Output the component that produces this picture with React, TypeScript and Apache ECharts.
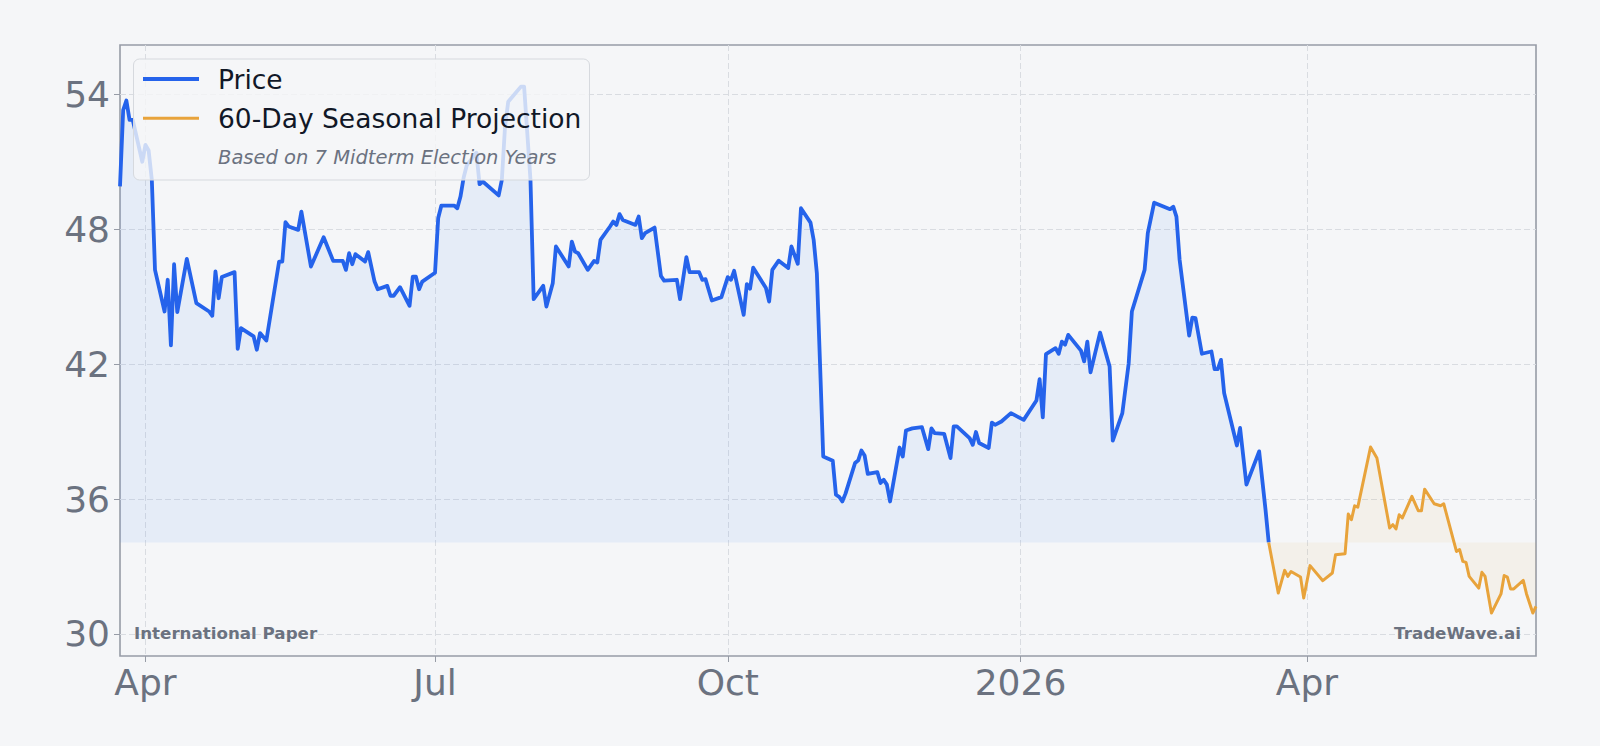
import React, { useEffect, useRef } from "react";
import * as echarts from "echarts";

const priceDates = [
  "2025-03-24","2025-03-25","2025-03-26","2025-03-27","2025-03-28","2025-03-31","2025-04-01","2025-04-02","2025-04-03","2025-04-04",
  "2025-04-07","2025-04-08","2025-04-09","2025-04-10","2025-04-11","2025-04-14","2025-04-17","2025-04-21","2025-04-22","2025-04-23",
  "2025-04-24","2025-04-25","2025-04-29","2025-04-30","2025-05-01","2025-05-05","2025-05-06","2025-05-07","2025-05-09","2025-05-13",
  "2025-05-14","2025-05-15","2025-05-16","2025-05-19","2025-05-20","2025-05-23","2025-05-27","2025-05-30","2025-06-02","2025-06-03",
  "2025-06-04","2025-06-05","2025-06-06","2025-06-09","2025-06-10","2025-06-12","2025-06-13","2025-06-16","2025-06-17","2025-06-18",
  "2025-06-20","2025-06-23","2025-06-24","2025-06-25","2025-06-26","2025-06-27","2025-07-01","2025-07-02","2025-07-03","2025-07-07",
  "2025-07-08","2025-07-09","2025-07-10","2025-07-11","2025-07-14","2025-07-15","2025-07-16","2025-07-21","2025-07-22","2025-07-23",
  "2025-07-24","2025-07-28","2025-07-29","2025-07-31","2025-08-01","2025-08-04","2025-08-05","2025-08-07","2025-08-08","2025-08-12",
  "2025-08-13","2025-08-14","2025-08-15","2025-08-18","2025-08-20","2025-08-21","2025-08-22","2025-08-25","2025-08-26","2025-08-27",
  "2025-08-28","2025-08-29","2025-09-02","2025-09-03","2025-09-04","2025-09-05","2025-09-08","2025-09-10","2025-09-11","2025-09-15",
  "2025-09-16","2025-09-18","2025-09-19","2025-09-22","2025-09-23","2025-09-24","2025-09-26","2025-09-29","2025-10-01","2025-10-02",
  "2025-10-03","2025-10-06","2025-10-07","2025-10-08","2025-10-09","2025-10-13","2025-10-14","2025-10-15","2025-10-17","2025-10-20",
  "2025-10-21","2025-10-23","2025-10-24","2025-10-27","2025-10-28","2025-10-29","2025-10-30","2025-10-31","2025-11-03","2025-11-04",
  "2025-11-05","2025-11-06","2025-11-07","2025-11-10","2025-11-11","2025-11-12","2025-11-13","2025-11-14","2025-11-17","2025-11-18",
  "2025-11-19","2025-11-20","2025-11-21","2025-11-24","2025-11-25","2025-11-26","2025-11-28","2025-12-01","2025-12-03","2025-12-04",
  "2025-12-05","2025-12-08","2025-12-10","2025-12-11","2025-12-12","2025-12-16","2025-12-17","2025-12-18","2025-12-19","2025-12-22",
  "2025-12-23","2025-12-24","2025-12-26","2025-12-29","2026-01-02","2026-01-06","2026-01-07","2026-01-08","2026-01-09","2026-01-12",
  "2026-01-13","2026-01-14","2026-01-15","2026-01-16","2026-01-20","2026-01-21","2026-01-22","2026-01-23","2026-01-26","2026-01-29",
  "2026-01-30","2026-02-02","2026-02-04","2026-02-05","2026-02-09","2026-02-10","2026-02-12","2026-02-17","2026-02-18","2026-02-19",
  "2026-02-20","2026-02-23","2026-02-24","2026-02-25","2026-02-27","2026-03-02","2026-03-03","2026-03-04","2026-03-05","2026-03-06",
  "2026-03-10","2026-03-11","2026-03-13","2026-03-17","2026-03-19","2026-03-20",
];

const priceValues = [
  49.9,53.3,53.72,52.86,52.86,51.0,51.75,51.5,50.2,46.19,
  44.34,45.75,42.83,46.44,44.31,46.68,44.71,44.34,44.15,46.12,
  44.93,45.87,46.09,42.68,43.6,43.23,42.64,43.38,43.05,46.56,
  46.56,48.31,48.12,47.97,48.78,46.34,47.64,46.59,46.59,46.19,
  46.93,46.44,46.89,46.56,46.98,45.67,45.33,45.48,45.04,45.04,
  45.42,44.59,45.89,45.89,45.33,45.67,46.06,48.5,49.05,49.05,
  48.93,49.45,50.3,50.85,51.4,50.0,50.12,49.5,50.19,52.56,
  53.67,54.34,54.34,50.19,44.89,45.48,44.56,45.6,47.23,46.34,
  47.45,47.0,46.93,46.19,46.59,46.52,47.52,48.12,48.34,48.19,
  48.67,48.41,48.19,48.56,47.6,47.82,48.07,45.92,45.71,45.75,
  44.89,46.76,46.09,46.09,45.75,45.78,44.83,44.98,45.87,45.75,
  46.15,44.19,45.56,45.35,46.29,45.38,44.78,46.19,46.6,46.27,
  47.23,46.46,48.93,48.29,47.52,46.04,42.0,37.89,37.7,36.19,
  36.1,35.89,36.24,37.6,37.72,38.16,37.94,37.12,37.2,36.71,
  36.86,36.64,35.89,38.29,37.89,39.05,39.14,39.2,38.22,39.14,
  38.93,38.9,37.82,39.23,39.23,38.71,38.41,38.98,38.49,38.27,
  39.4,39.3,39.45,39.82,39.52,40.38,41.33,39.63,42.44,42.71,
  42.46,43.0,42.86,43.3,42.6,42.12,43.0,41.63,43.4,41.89,
  38.6,39.82,42.04,44.34,46.19,47.82,49.18,48.89,49.0,48.56,
  46.64,43.27,44.07,44.04,42.46,42.56,41.78,41.78,42.19,40.71,
  38.38,39.16,36.64,38.12,35.52,34.07,
];

const projDates = [
  "2026-03-20","2026-03-23","2026-03-25","2026-03-26","2026-03-27","2026-03-30","2026-03-31","2026-04-02","2026-04-06","2026-04-09",
  "2026-04-10","2026-04-13","2026-04-14","2026-04-15","2026-04-16","2026-04-17","2026-04-21","2026-04-23","2026-04-27","2026-04-28",
  "2026-04-29","2026-04-30","2026-05-01","2026-05-04","2026-05-06","2026-05-07","2026-05-08","2026-05-11","2026-05-13","2026-05-14",
  "2026-05-18","2026-05-19","2026-05-20","2026-05-21","2026-05-22","2026-05-25","2026-05-26","2026-05-27","2026-05-29","2026-06-01",
  "2026-06-02","2026-06-03","2026-06-04","2026-06-05","2026-06-08","2026-06-09","2026-06-11","2026-06-12",
];

const projValues = [
  34.07,31.82,32.83,32.56,32.78,32.53,31.6,33.04,32.37,32.71,
  33.52,33.57,35.33,35.08,35.7,35.64,38.31,37.82,34.71,34.86,
  34.67,35.3,35.16,36.12,35.48,35.48,36.44,35.79,35.7,35.79,
  33.67,33.75,33.23,33.18,32.56,32.04,32.74,32.56,30.93,31.78,
  32.6,32.53,32.0,32.0,32.38,31.79,30.93,31.23,
];

const yTickValues = [30, 36, 42, 48, 54];
const xTickDates = ["2025-04-01", "2025-07-01", "2025-10-01", "2026-01-01", "2026-04-01"];
const monthNames = ["Jan","Feb","Mar","Apr","May","Jun","Jul","Aug","Sep","Oct","Nov","Dec"];

const legendTitles = ["Price", "60-Day Seasonal Projection"];
const legendNote = "Based on 7 Midterm Election Years";
const leftNote = "International Paper";
const rightNote = "TradeWave.ai";

const FONT = "DejaVu Sans";
const BLUE = "#2563eb";
const ORANGE = "#e8a33b";
const BG = "#f5f6f8";

function ts(s: string): number {
  const [y, m, d] = s.split("-").map(Number);
  return new Date(y, m - 1, d).getTime();
}

export default function App() {
  const ref = useRef<HTMLDivElement>(null);

  useEffect(() => {
    if (!ref.current) return;
    const chart = echarts.init(ref.current, null, { renderer: "svg" });
    const baseline = priceValues[priceValues.length - 1];
    const priceData = priceDates.map((d, i) => [ts(d), priceValues[i]]);
    const projData = projDates.map((d, i) => [ts(d), projValues[i]]);
    const xTicks = xTickDates.map(ts);

    const gridLine = { show: true, lineStyle: { color: "#d9dce1", width: 1, type: [6, 3] } };

    const option: any = {
      animation: false,
      backgroundColor: BG,
      textStyle: { fontFamily: FONT },
      grid: {
        left: 120, top: 45, width: 1416, height: 611,
        show: true, borderColor: "#979ca6", borderWidth: 1.6, backgroundColor: "transparent",
        containLabel: false, outerBoundsMode: "none",
      },
      xAxis: {
        type: "value",
        min: ts(priceDates[0]),
        max: ts(projDates[projDates.length - 1]),
        axisLine: { show: false },
        axisTick: { show: true, length: 6, lineStyle: { color: "#979ca6", width: 1 }, customValues: xTicks },
        axisLabel: {
          customValues: xTicks,
          fontSize: 36, color: "#6b7280", margin: 8, fontFamily: FONT,
          formatter: (v: number) => {
            const d = new Date(v);
            return d.getMonth() === 0 ? String(d.getFullYear()) : monthNames[d.getMonth()];
          },
        },
        splitLine: gridLine,
      },
      yAxis: {
        type: "value",
        min: 29.02,
        max: 56.19,
        axisLine: { show: false },
        axisTick: { show: true, length: 6, lineStyle: { color: "#979ca6", width: 1 }, customValues: yTickValues },
        axisLabel: { customValues: yTickValues, fontSize: 36, color: "#6b7280", margin: 10, fontFamily: FONT },
        splitLine: gridLine,
      },
      series: [
        {
          name: legendTitles[0],
          type: "line",
          data: priceData,
          showSymbol: false,
          symbol: "none",
          lineStyle: { color: BLUE, width: 3.8, join: "round" },
          itemStyle: { color: BLUE },
          areaStyle: { color: "rgba(59,130,246,0.12)", origin: baseline },
          z: 3,
        },
        {
          name: legendTitles[1],
          type: "line",
          data: projData,
          showSymbol: false,
          symbol: "none",
          lineStyle: { color: ORANGE, width: 3.0, join: "round" },
          itemStyle: { color: ORANGE },
          areaStyle: { color: "rgba(232,163,61,0.1)", origin: baseline },
          z: 3,
        },
      ],
      graphic: [
        {
          type: "rect", z: 20,
          shape: { x: 133.5, y: 59, width: 456, height: 121, r: 6 },
          style: { fill: "rgba(245,246,248,0.8)", stroke: "#d6d9de", lineWidth: 1 },
        },
        { type: "line", z: 21, shape: { x1: 143, y1: 79, x2: 199, y2: 79 }, style: { stroke: BLUE, lineWidth: 3.8 } },
        { type: "line", z: 21, shape: { x1: 143, y1: 118.3, x2: 199, y2: 118.3 }, style: { stroke: ORANGE, lineWidth: 3 } },
        { type: "text", z: 21, x: 218, y: 79, style: { text: legendTitles[0], font: `26.5px '${FONT}'`, fill: "#111827", verticalAlign: "middle", align: "left" } },
        { type: "text", z: 21, x: 218, y: 118.3, style: { text: legendTitles[1], font: `26.5px '${FONT}'`, fill: "#111827", verticalAlign: "middle", align: "left" } },
        { type: "text", z: 21, x: 218, y: 157.5, style: { text: legendNote, font: `italic 19.5px '${FONT}'`, fill: "#6b7280", verticalAlign: "middle", align: "left" } },
        { type: "text", z: 21, x: 134, y: 633, style: { text: leftNote, font: `bold 16.7px '${FONT}'`, fill: "#6b7280", verticalAlign: "middle", align: "left" } },
        { type: "text", z: 21, x: 1521, y: 633, style: { text: rightNote, font: `bold 16.7px '${FONT}'`, fill: "#6b7280", verticalAlign: "middle", align: "right" } },
      ],
    };

    chart.setOption(option);
    return () => chart.dispose();
  }, []);

  return (
    <div
      ref={ref}
      style={{ position: "fixed", left: 0, top: 0, width: 1600, height: 746, background: BG }}
    />
  );
}
